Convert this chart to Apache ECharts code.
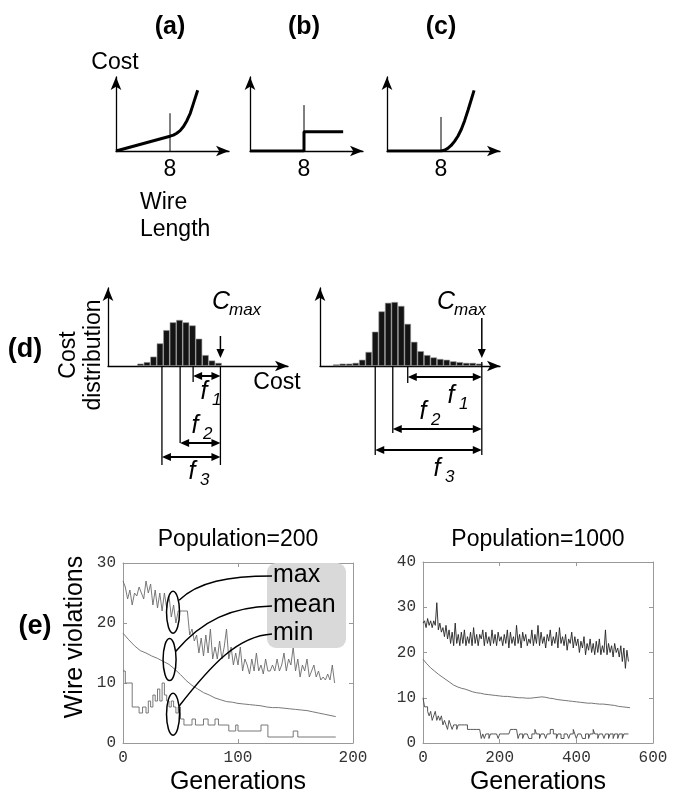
<!DOCTYPE html>
<html><head><meta charset="utf-8">
<script src="https://cdn.jsdelivr.net/npm/echarts@6/dist/echarts.min.js"></script>
<style>html,body{margin:0;padding:0;background:#fff}#c{width:684px;height:795px}</style>
</head><body><div id="c"></div>
<script>
// ---------- DATA ----------
// (a)(b)(c) cost functions vs wire length
const lenA = [0, 8, 8.5, 9, 9.5, 10, 10.5, 11, 11.5, 12.1];
const costA = [0, 2.0, 2.15, 2.4, 2.75, 3.3, 4.1, 5.1, 6.5, 8.2];
const lenB = [0, 8, 8, 13.8];
const costB = [0, 0, 2.6, 2.6];
const lenC = [0, 8, 8.5, 9, 9.5, 10, 10.5, 11, 11.5, 12, 12.5, 12.9];
const costC = [0, 0, 0.1, 0.35, 0.75, 1.3, 2.0, 2.9, 4.1, 5.5, 7.0, 8.2];
const markLen = 8;
const markHeights = [5.1, 6.2, 4.6];
// (d) cost distributions
const histLeftBins = [5, 6, 7, 8, 9, 10, 11, 12, 13, 14, 15, 16, 17];
const histLeftCounts = [3, 5, 12, 29, 46, 56, 59, 56, 52, 35, 14, 7, 4];
const histRightBins = [2.5, 3.5, 4.5, 5.5, 6.5, 7.5, 8.5, 9.5, 10.5, 11.5, 12.5, 13.5, 14.5, 15.5, 16.5, 17.5, 18.5, 19.5, 20.5, 21.5, 22.5, 23.5, 24.5];
const histRightCounts = [2, 3, 3, 4, 8, 18, 44, 70, 81, 82, 77, 54, 31, 19, 14, 11, 9, 8, 6, 5, 4, 4, 3];
// (e) wire violations vs generations
const leftMaxStep = 2;
const leftMax = [27,26,24,25.5,23,25,24.5,26,25,24,
 27,25,26.5,23,25.5,22.5,25,22,25,22.5,
 24.5,21,23,20,22,22,22,22,22,18,
 19,17,18,15,17.5,14.5,18,15,19,14,
 16,14,17,14,16,19,14,16,13,15,
 13,16,12,14,13,11.5,14,12,15,12,
 13,11.5,14,12,12,13,12,14,12,13,
 15,12,14,13,16,12,14,11,13,12,
 14,11,12,13,11,12,10.5,11,10.5,11.5,
 10.5,13,10];
const leftMeanStep = 5;
const leftMean = [18.3,17.2,16.2,15.4,15.0,14.5,14.1,13.6,13.1,12.3,
 11.4,10.4,9.6,9.0,8.4,8.0,7.5,7.2,6.9,6.8,
 6.6,6.5,6.4,6.3,6.2,6.0,5.9,5.9,5.8,5.7,
 5.6,5.5,5.4,5.2,5.0,4.8,4.6,4.4];
const leftMinGen = [0,2,8,14,17,20,22,24,26,28,30,32,34,36,38,40,42,44,46,48,50,53,60,63,70,74,80,83,92,98,100,120,126,148,152,185];
const leftMinVal = [12,10,6,5,6,5,7,6,8,7,9,7,10,8,7,6,7,6,5,6,4,3,4,3,4,3,4,3,2,3,2,3,1,2,1,1];
const rightStep = 4;
const rightMax = [26.5,27,25.5,27.5,26,27,25.5,27,26,
 31,
 25,26.5,24.5,25.5,23.5,26,23,25,
 22,24.5,21.5,26.5,22,24,21.5,24.5,22,25, 21.5,23.5,22,24.5,21.5,25.5,22,24,21.5,24, 23,25,21.5,24.5,22,23.5,21.5,25,22,24, 21.5,24.5,22.5,
 23.5,21.5,24,22,25,21,24.5,22,23.5,21.5, 26,22,24,21,24.5,22.5,24,21.5,23,22, 25,21.5,24,22,26,21.5,24.5,22,23.5,21, 24,22.5,25,21.5,23.5,22,24.5,21,25.5,22, 23.5,21.5,24,20.5,23,22,24.5,21,23.5,21.5,
 23,20,22.5,21,23.5,19.5,22,20.5,23,20, 22,19.5,22.5,20,23,19.5,21.5,20,25,19.5, 22,20,21.5,19,22,20,21,19,21.5,18, 21,16.5,20.5,18];
const rightMeanStep = 10;
const rightMean = [18.5,17.5,16.6,15.9,15.2,14.6,14.0,13.4,12.8,12.4,
 12.1,11.9,11.6,11.3,11.1,11.0,10.8,10.7,10.6,10.5,
 10.4,10.3,10.3,10.2,10.1,10.0,10.0,9.9,9.9,10.0,
 10.1,10.2,10.1,9.9,9.8,9.6,9.5,9.4,9.3,9.2,
 9.1,9.0,8.9,8.8,8.8,8.7,8.6,8.6,8.5,8.4,
 8.3,8.1,8.0,7.9,7.8];
const rightMin = [10,8,8,7, 6,7,5,6,7,5,6,5,6, 4,5,4,3,5,4,3,4,4,3,4,4,4, 4,4,4,3,3,3,3,3,3,3,3,3,
 1,2,1,2,2,1,2,2,2,2,
 2,1,2,2,2,2,2,2,2,3,
 3,3,3,3,1,2,2,1,2,2,
 2,1,1,2,2,3,2,2,1,2,
 2,2,1,2,2,3,3,2,2,1,
 2,2,1,1,2,2,2,1,2,2,
 3,2,1,2,2,2,1,1,2,2,
 1,2,2,3,2,2,1,2,2,2,
 1,2,2,1,2,2,1,2,2,1,
 2,2,1,2,2,2,2];
const leftTicksX = [0, 100, 200], leftTicksY = [0, 10, 20, 30];
const rightTicksX = [0, 200, 400, 600], rightTicksY = [0, 10, 20, 30, 40];

// ---------- CHART ----------
const SANS = "'Liberation Sans', Arial, Helvetica, sans-serif";
const MONO = "'Liberation Mono', 'DejaVu Sans Mono', monospace";
const chart = echarts.init(document.getElementById('c'), null, {renderer: 'canvas'});
const pairs = (xs, ys) => xs.map((x, i) => [x, ys[i]]);
const stepped = (step, ys) => ys.map((y, i) => [i * step, y]);

const arrowLine = {show: true, onZero: false, symbol: ['none', 'arrow'], symbolSize: [8, 13], lineStyle: {color: '#000', width: 1.3}};
function schemX(gi, max, showLabel) {
  return {type: 'value', gridIndex: gi, min: 0, max: max, interval: 8, axisLine: arrowLine,
    axisTick: {show: false}, splitLine: {show: false},
    axisLabel: {show: showLabel, margin: 7, fontSize: 23, fontFamily: SANS, color: '#000',
      formatter: v => (v === markLen ? String(markLen) : '')}};
}
function schemY(gi, max) {
  return {type: 'value', gridIndex: gi, min: 0, max: max, axisLine: arrowLine,
    axisTick: {show: false}, splitLine: {show: false}, axisLabel: {show: false}};
}
const frameLine = {show: true, onZero: false, lineStyle: {color: '#999', width: 1}};
const frameTick = {show: true, inside: true, length: 4, lineStyle: {color: '#999'}};
function eAxis(gi, ticks, pos, labels) {
  return {type: 'value', gridIndex: gi, position: pos, min: ticks[0], max: ticks[ticks.length - 1],
    interval: ticks[1] - ticks[0], axisLine: frameLine, axisTick: frameTick, splitLine: {show: false},
    axisLabel: {show: labels, fontFamily: MONO, fontSize: 16, color: '#333', margin: 7}};
}

const thick = {color: '#000', width: 3};
const thin = {color: '#000', width: 1};
const eLine = (c, w) => ({color: c, width: w});

const option = {
  animation: false,
  backgroundColor: '#fff',
  grid: [
    {left: 116, top: 77, width: 113, height: 74},
    {left: 250, top: 77, width: 113, height: 74},
    {left: 387, top: 77, width: 113, height: 74},
    {left: 108, top: 288, width: 180, height: 78},
    {left: 320, top: 288, width: 180, height: 78},
    {left: 123, top: 563, width: 230, height: 180},
    {left: 423, top: 562, width: 230, height: 181}
  ],
  xAxis: [
    schemX(0, 16.74, true), schemX(1, 16.74, true), schemX(2, 16.74, true),
    {type: 'value', gridIndex: 3, min: 0, max: 27.7, axisLine: arrowLine, axisTick: {show: false}, splitLine: {show: false}, axisLabel: {show: false}},
    {type: 'value', gridIndex: 4, min: 0, max: 27.7, axisLine: arrowLine, axisTick: {show: false}, splitLine: {show: false}, axisLabel: {show: false}},
    eAxis(5, leftTicksX, 'bottom', true), eAxis(6, rightTicksX, 'bottom', true),
    eAxis(5, leftTicksX, 'top', false), eAxis(6, rightTicksX, 'top', false)
  ],
  yAxis: [
    schemY(0, 10), schemY(1, 10), schemY(2, 10), schemY(3, 100), schemY(4, 100),
    eAxis(5, leftTicksY, 'left', true), eAxis(6, rightTicksY, 'left', true),
    eAxis(5, leftTicksY, 'right', false), eAxis(6, rightTicksY, 'right', false)
  ],
  series: [
    {type: 'line', xAxisIndex: 0, yAxisIndex: 0, data: pairs(lenA, costA), symbol: 'none', lineStyle: thick},
    {type: 'line', xAxisIndex: 0, yAxisIndex: 0, data: [[markLen, 0], [markLen, markHeights[0]]], symbol: 'none', lineStyle: thin},
    {type: 'line', xAxisIndex: 1, yAxisIndex: 1, data: pairs(lenB, costB), symbol: 'none', lineStyle: thick},
    {type: 'line', xAxisIndex: 1, yAxisIndex: 1, data: [[markLen, 0], [markLen, markHeights[1]]], symbol: 'none', lineStyle: thin},
    {type: 'line', xAxisIndex: 2, yAxisIndex: 2, data: pairs(lenC, costC), symbol: 'none', lineStyle: thick},
    {type: 'line', xAxisIndex: 2, yAxisIndex: 2, data: [[markLen, 0], [markLen, markHeights[2]]], symbol: 'none', lineStyle: thin},
    {type: 'bar', xAxisIndex: 3, yAxisIndex: 3, data: pairs(histLeftBins, histLeftCounts), barWidth: 6.5,
      itemStyle: {color: '#141414', borderColor: '#9a9a9a', borderWidth: 0.6}},
    {type: 'bar', xAxisIndex: 4, yAxisIndex: 4, data: pairs(histRightBins, histRightCounts), barWidth: 6.5,
      itemStyle: {color: '#141414', borderColor: '#9a9a9a', borderWidth: 0.6}},
    {type: 'line', xAxisIndex: 5, yAxisIndex: 5, data: stepped(leftMaxStep, leftMax), symbol: 'none', lineStyle: eLine('#6a6a6a', 0.9)},
    {type: 'line', xAxisIndex: 5, yAxisIndex: 5, data: stepped(leftMeanStep, leftMean), symbol: 'none', lineStyle: eLine('#6a6a6a', 0.9)},
    {type: 'line', xAxisIndex: 5, yAxisIndex: 5, data: pairs(leftMinGen, leftMinVal), step: 'end', symbol: 'none', lineStyle: eLine('#6a6a6a', 0.9)},
    {type: 'line', xAxisIndex: 6, yAxisIndex: 6, data: stepped(rightStep, rightMax), symbol: 'none', lineStyle: eLine('#222', 0.9)},
    {type: 'line', xAxisIndex: 6, yAxisIndex: 6, data: stepped(rightMeanStep, rightMean), symbol: 'none', lineStyle: eLine('#666', 0.9)},
    {type: 'line', xAxisIndex: 6, yAxisIndex: 6, data: stepped(rightStep, rightMin), step: 'end', symbol: 'none', lineStyle: eLine('#444', 0.9)}
  ]
};
chart.setOption(option);

// ---------- ANNOTATIONS ----------
const P = (gi, x, y) => chart.convertToPixel({gridIndex: gi}, [x, y]);
const g = [];
function T(text, x, y, size, o) {
  o = o || {};
  g.push({type: 'text', x: x, y: y, rotation: o.rot || 0, z: 50,
    style: {text: text, fontSize: size, fontFamily: SANS, fontWeight: o.bold ? 'bold' : 'normal',
      fontStyle: o.italic ? 'italic' : 'normal', fill: '#000', lineHeight: o.lh || size * 1.05,
      textAlign: o.align || 'center', align: o.align || 'center',
      textVerticalAlign: 'middle', verticalAlign: 'middle'}});
}
function L(x1, y1, x2, y2, w) {
  g.push({type: 'line', z: 50, shape: {x1: x1, y1: y1, x2: x2, y2: y2}, style: {stroke: '#000', lineWidth: w || 1.3}});
}
function head(xt, yt, dx, dy) {
  const len = 9, hw = 4;
  const bx = xt - dx * len, by = yt - dy * len;
  g.push({type: 'polygon', z: 51, shape: {points: [[xt, yt], [bx - dy * hw, by + dx * hw], [bx + dy * hw, by - dx * hw]]}, style: {fill: '#000'}});
}
function dbl(xa, xb, y) { L(xa + 4, y, xb - 4, y, 2); head(xa, y, -1, 0); head(xb, y, 1, 0); }
function sub(main, s, x, y) {
  T(main, x, y, 25, {italic: true});
  T(s, x + 8, y + 8, 17, {italic: true, align: 'left'});
}

// (d) left
(function () {
  const gi = 3, base = P(gi, 0, 0)[1];
  const xf3 = P(gi, 8.3, 0)[0], xf2 = P(gi, 11.1, 0)[0], xf1 = P(gi, 13.1, 0)[0], xc = P(gi, 17.3, 0)[0];
  L(xf3, base, xf3, base + 99); L(xf2, base, xf2, base + 77); L(xf1, base, xf1, base + 16); L(xc, base, xc, base + 99);
  L(xc, base - 30, xc, base - 12, 1.5); head(xc, base - 8, 0, 1);
  dbl(xf1, xc, base + 10); dbl(xf2, xc, base + 77); dbl(xf3, xc, base + 91);
  sub('f', '1', 204, 392); sub('f', '2', 195, 426); sub('f', '3', 192, 472);
  sub('C', 'max', 221, 302);
})();
// (d) right
(function () {
  const gi = 4, base = P(gi, 0, 0)[1];
  const xf3 = P(gi, 8.5, 0)[0], xf2 = P(gi, 11.2, 0)[0], xf1 = P(gi, 13.5, 0)[0], xc = P(gi, 24.9, 0)[0];
  L(xf3, base, xf3, base + 89); L(xf2, base, xf2, base + 67); L(xf1, base, xf1, base + 17); L(xc, base - 4, xc, base + 89);
  L(xc, base - 48, xc, base - 12, 1.5); head(xc, base - 8, 0, 1);
  dbl(xf1, xc, base + 11); dbl(xf2, xc, base + 63); dbl(xf3, xc, base + 84);
  sub('f', '1', 451, 396); sub('f', '2', 423, 412); sub('f', '3', 437, 469);
  sub('C', 'max', 446, 302);
})();
// (e) ellipses, box and leader curves
(function () {
  const gi = 5;
  const eMax = P(gi, 43.5, 21.8), eMean = P(gi, 40.5, 13.9), eMin = P(gi, 43.5, 4.8);
  g.push({type: 'rect', z: 40, shape: {x: 267, y: 563, width: 79, height: 85, r: 9}, style: {fill: '#d9d9d9'}});
  [eMax, eMean, eMin].forEach(c => g.push({type: 'ellipse', z: 50, shape: {cx: c[0], cy: c[1], rx: 6.5, ry: 21}, style: {fill: 'none', stroke: '#000', lineWidth: 1.5}}));
  const curve = (x1, y1, c1x, c1y, c2x, c2y, x2, y2) => g.push({type: 'bezierCurve', z: 50,
    shape: {x1: x1, y1: y1, cpx1: c1x, cpy1: c1y, cpx2: c2x, cpy2: c2y, x2: x2, y2: y2}, style: {stroke: '#000', lineWidth: 1.5, fill: 'none'}});
  curve(eMax[0] + 6, eMax[1] - 12, 198, 582, 228, 576, 272, 576);
  curve(eMean[0] + 6, eMean[1] - 8, 202, 620, 232, 607, 272, 606);
  curve(eMin[0] + 6, eMin[1] - 8, 212, 664, 238, 636, 272, 634);
  T('max', 273, 575, 25, {align: 'left'});
  T('mean', 273, 605, 25, {align: 'left'});
  T('min', 273, 633, 25, {align: 'left'});
})();

// text labels
T('(a)', 170, 27, 25, {bold: true}); T('(b)', 304, 27, 25, {bold: true}); T('(c)', 441, 27, 25, {bold: true});
T('Cost', 115, 63, 23);
T('Wire', 140, 203, 23, {align: 'left'}); T('Length', 140, 230, 23, {align: 'left'});
T('(d)', 25, 350, 27, {bold: true});
T('Cost\ndistribution', 81, 355, 23, {rot: Math.PI / 2, lh: 25});
T('Cost', 277, 383, 23);
T('Population=200', 238, 540, 23); T('Population=1000', 538, 540, 23);
T('(e)', 35, 627, 27, {bold: true});
T('Wire violations', 75, 637, 25, {rot: Math.PI / 2});
T('Generations', 238, 782, 25); T('Generations', 538, 782, 25);

chart.setOption({graphic: {elements: g}});
</script>
</body></html>
